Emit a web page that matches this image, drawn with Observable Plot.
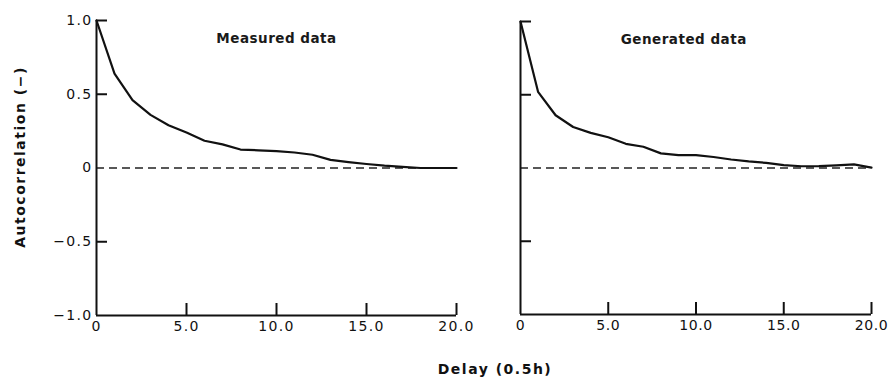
<!DOCTYPE html>
<html>
<head>
<meta charset="utf-8">
<script src="https://cdn.jsdelivr.net/npm/d3@7"></script>
<script src="https://cdn.jsdelivr.net/npm/@observablehq/plot@0.6"></script>
<style>
  html, body { margin: 0; padding: 0; background: #fff; }
  #wrap { position: relative; width: 889px; height: 378px; overflow: hidden; font-family: "DejaVu Sans", sans-serif; color: #111; }
  #left, #right { position: absolute; top: 0; }
  #left { left: 0; }
  #right { left: 440px; }
  .ylab { position: absolute; left: 20px; top: 157px; transform: translate(-50%, -50%) rotate(-90deg); white-space: nowrap; font-size: 14px; font-weight: bold; letter-spacing: 1.5px; }
  .xlab { position: absolute; left: 495px; top: 369px; transform: translate(-50%, -50%); white-space: nowrap; font-size: 14px; font-weight: bold; letter-spacing: 1.5px; }
  svg g[aria-label="text"] text { letter-spacing: 0.5px; }
  #left svg g[aria-label="x-axis tick label"] text, #left svg g[aria-label="y-axis tick label"] text { letter-spacing: 1.3px; }
  #right svg g[aria-label="x-axis tick label"] text { letter-spacing: 0.6px; }
</style>
</head>
<body>
<div id="wrap">
  <div id="left"></div>
  <div id="right"></div>
  <div class="ylab">Autocorrelation (−)</div>
  <div class="xlab">Delay (0.5h)</div>
</div>
<script>
// Delay values (units of 0.5 h)
const delays = [0,1,2,3,4,5,6,7,8,9,10,11,12,13,14,15,16,17,18,19,20];
// Autocorrelation, measured data
const measured = [1.0,0.64,0.46,0.36,0.29,0.24,0.185,0.16,0.125,0.12,0.115,0.105,0.09,0.055,0.04,0.027,0.016,0.008,0.0,0.0,0.0];
// Autocorrelation, generated data
const generated = [1.0,0.52,0.36,0.28,0.24,0.21,0.165,0.145,0.10,0.088,0.088,0.075,0.058,0.045,0.035,0.02,0.012,0.013,0.018,0.025,0.003];
const xTicks = [0,5,10,15,20];
const yTicks = [-1,-0.5,0,0.5,1];
const yTickMarks = [1,0.5,-0.5];
const xTickMarks = [5,10,15,20];
const titles = ["Measured data","Generated data"];

const fmtX = d => d === 0 ? "0" : d.toFixed(1);
const fmtY = d => d === 0 ? "0" : (d < 0 ? "−" + Math.abs(d).toFixed(1) : d.toFixed(1));

function panel(values, title, opts) {
  const data = delays.map((x, i) => ({x, y: values[i]}));
  const plotW = opts.width - opts.marginLeft - opts.marginRight;
  const plotH = opts.height - opts.marginTop - opts.marginBottom;
  const marks = [
    Plot.ruleY([0], {stroke: "#222", strokeWidth: 1.6, strokeDasharray: "8,5"}),
    Plot.ruleX([0], {stroke: "#111", strokeWidth: 2}),
    Plot.ruleY([-1], {stroke: "#111", strokeWidth: 2}),
    Plot.tickY(yTickMarks, {y: d => d, insetRight: plotW - 11, stroke: "#111", strokeWidth: 2}),
    Plot.tickX(xTickMarks, {x: d => d, insetTop: plotH - 12, stroke: "#111", strokeWidth: 2}),
    Plot.line(data, {x: "x", y: "y", stroke: "#111", strokeWidth: 2.2}),
    Plot.text([title], {x: opts.titleX, y: 0.875, text: d => d, fontSize: 13.5, fontWeight: "bold", fill: "#1a1a1a"}),
    Plot.axisX({ticks: xTicks, tickFormat: fmtX, tickSize: 0, tickPadding: 6, fontSize: 14, label: null})
  ];
  if (opts.yLabels) {
    marks.push(Plot.axisY({ticks: yTicks, tickFormat: fmtY, tickSize: 0, tickPadding: 4, fontSize: 14, label: null}));
  } else {
    marks.push(Plot.axisY({ticks: [], label: null}));
  }
  return Plot.plot({
    width: opts.width,
    height: opts.height,
    marginLeft: opts.marginLeft,
    marginRight: opts.marginRight,
    marginTop: opts.marginTop,
    marginBottom: opts.marginBottom,
    style: {fontFamily: "'DejaVu Sans', sans-serif", fontSize: "14px", color: "#111", background: "transparent", overflow: "visible"},
    x: {domain: [0, 20]},
    y: {domain: [-1, 1]},
    marks
  });
}

document.getElementById("left").append(panel(measured, titles[0], {
  width: 470, height: 340, marginLeft: 96, marginRight: 14, marginTop: 20, marginBottom: 25, titleX: 10, yLabels: true
}));
document.getElementById("right").append(panel(generated, titles[1], {
  width: 449, height: 340, marginLeft: 80, marginRight: 18, marginTop: 21, marginBottom: 26, titleX: 9.3, yLabels: false
}));
</script>
</body>
</html>
